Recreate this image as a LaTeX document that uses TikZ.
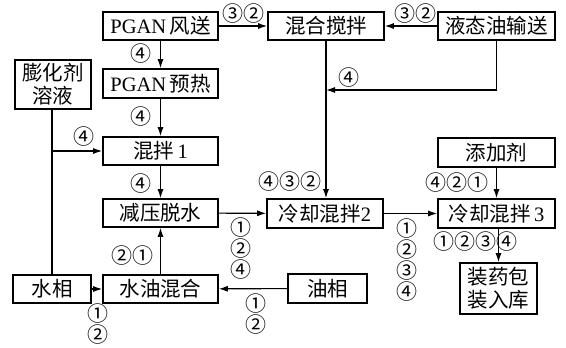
\documentclass[tikz,border=0pt]{standalone}
\usepackage{fontspec}
\setmainfont{Liberation Serif}
\newfontfamily\cjk{Noto Sans CJK SC}
\usetikzlibrary{arrows.meta}
\tikzset{
  box/.style={draw, line width=1.7pt, rectangle, inner sep=0pt, font=\fontsize{20.5}{22}\selectfont, align=center},
  conn/.style={line width=1.1pt, -{Latex[length=9pt,width=6pt]}},
  plain/.style={line width=1.1pt},
  lab/.style={inner sep=0pt, font=\cjk\fontsize{21}{21}\selectfont, align=center},
}
\begin{document}
\begin{tikzpicture}[x=1pt,y=-1pt]
\useasboundingbox (0,0) rectangle (566,348);
% boxes
\node[box, minimum width=115pt, minimum height=28pt] (pf) at (160.5,26) {PGAN\,{\cjk 风送}};
\node[box, minimum width=116pt, minimum height=28pt] (mx) at (326,26) {\cjk 混合搅拌};
\node[box, minimum width=117pt, minimum height=28pt] (lq) at (496.5,26) {\cjk 液态油输送};
\node[box, minimum width=76pt, minimum height=49pt, font=\cjk\fontsize{20.5}{23}\selectfont] (ex) at (53,84.5) {膨化剂\\溶液};
\node[box, minimum width=115pt, minimum height=29pt] (pp) at (160.5,83.5) {PGAN\,{\cjk 预热}};
\node[box, minimum width=115pt, minimum height=28pt] (m1) at (160.5,151) {{\cjk 混拌}\,1};
\node[box, minimum width=117pt, minimum height=29pt] (ad) at (496.5,152.5) {\cjk 添加剂};
\node[box, minimum width=115pt, minimum height=28pt] (dh) at (160.5,213) {\cjk 减压脱水};
\node[box, minimum width=116pt, minimum height=29pt] (c2) at (325,213.5) {{\cjk 冷却混拌}2};
\node[box, minimum width=117pt, minimum height=29pt] (c3) at (496.5,213.5) {{\cjk 冷却混拌}\,3};
\node[box, minimum width=78pt, minimum height=28pt] (wa) at (52,289) {\cjk 水相};
\node[box, minimum width=115pt, minimum height=28pt] (wo) at (160.5,289) {\cjk 水油混合};
\node[box, minimum width=79pt, minimum height=29pt] (oi) at (327.5,288.5) {\cjk 油相};
\node[box, minimum width=77pt, minimum height=51pt, font=\cjk\fontsize{20.5}{23}\selectfont] (pk) at (498.5,288.5) {装药包\\装入库};
% junctions
\coordinate (j1) at (326,90);
\coordinate (j2) at (52,151);
% connectors
\draw[conn] (pf) -- (mx);
\draw[conn] (lq) -- (mx);
\draw[conn] (lq.south) |- (j1);
\draw[conn] (mx.south) -- (c2.north -| mx.south);
\draw[conn] (pf) -- (pp);
\draw[conn] (pp) -- (m1);
\draw[plain] (ex.south -| wa.north) -- (wa.north);
\draw[conn] (j2) -- (m1.west);
\draw[conn] (m1) -- (dh);
\draw[conn] (wo) -- (dh);
\draw[conn] (wa) -- (wo);
\draw[conn] (oi) -- (wo);
\draw[conn] (dh) -- (c2);
\draw[conn] (c2) -- (c3);
\draw[conn] (ad) -- (c3);
\draw[conn] (c3.south -| pk.north) -- (pk.north);
% labels
\node[lab] (l1) at (243,14) {③②};
\node[lab] (l2) at (415,14) {③②};
\node[lab] (l3) at (349,78) {④};
\node[lab] (l4) at (290,182) {④③②};
\node[lab] (l5) at (141,54) {④};
\node[lab] (l6) at (141,117) {④};
\node[lab] (l7) at (84,137) {④};
\node[lab] (l8) at (141,184) {④};
\node[lab] (l9) at (132,256) {②①};
\node[lab] (l10) at (241,249) {①\\②\\④};
\node[lab] (l11) at (98,324.5) {①\\②};
\node[lab] (l12) at (256,314.5) {①\\②};
\node[lab] (l13) at (407,260) {①\\②\\③\\④};
\node[lab] (l14) at (457,183) {④②①};
\node[lab] (l15) at (475,242) {①②③④};
\end{tikzpicture}
\end{document}
